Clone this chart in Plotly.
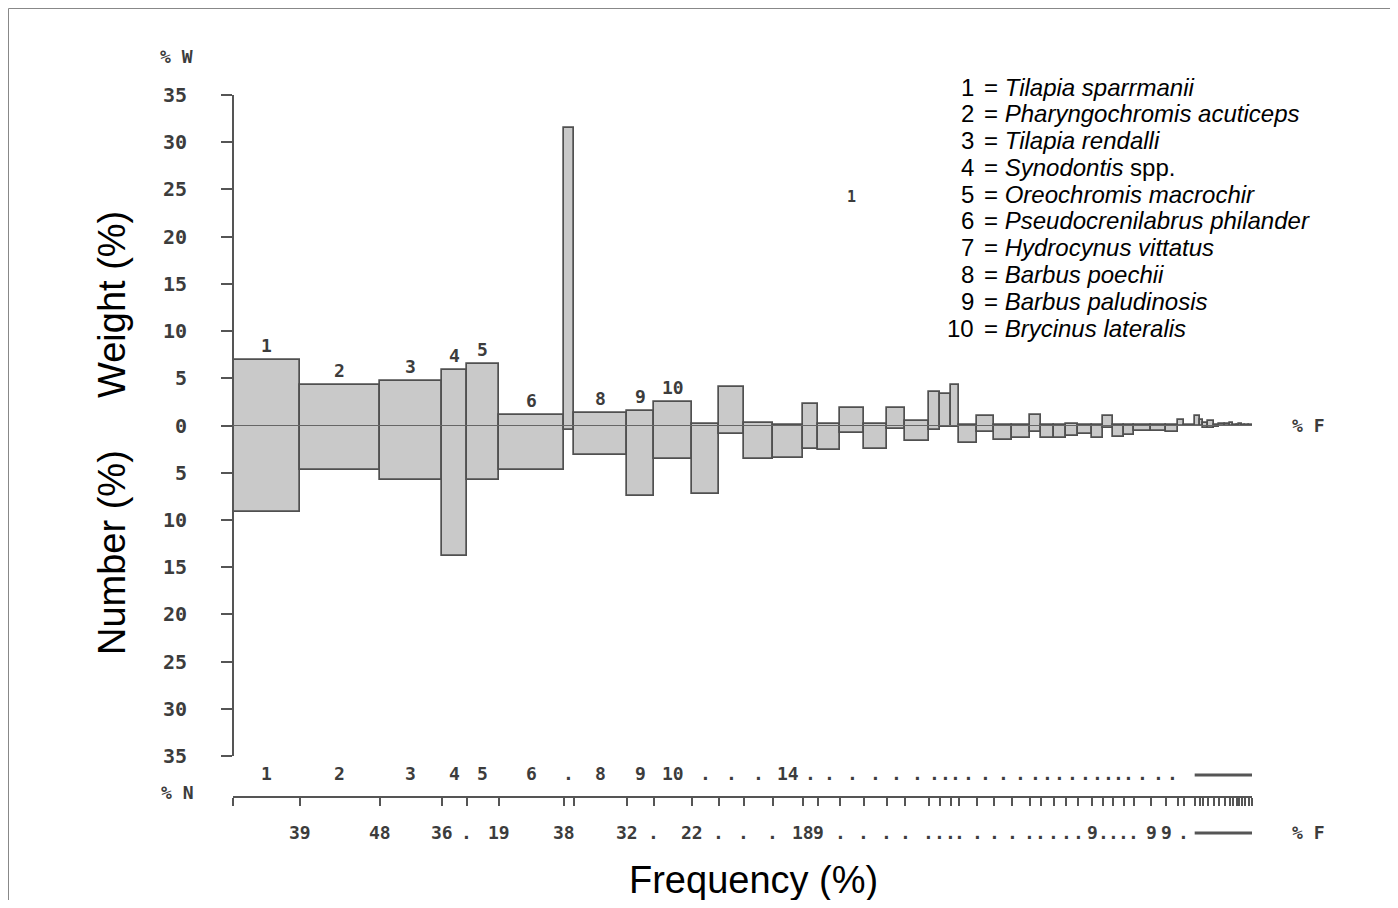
import plotly.graph_objects as go
import numpy as np

# ---------------- data ----------------
freq = [39, 47, 36, 14.5, 19, 38, 5.5, 31.5, 15.5, 22.5, 15.5, 14.5, 17, 17.5, 9, 13, 13.5, 13.5,
        11, 13.5, 6.5, 6.5, 5, 10.5, 10, 10.5, 10, 6.5, 7.5, 7.5, 7, 8, 6.5, 6, 6, 6, 10, 9, 6.5,
        3.5, 6.5, 3, 2, 3, 3, 3.5, 3, 3, 2, 2, 1.5, 1.5, 2, 2, 2]
weight = [6.9, 4.3, 4.7, 5.9, 6.5, 1.1, 31.5, 1.3, 1.5, 2.5, 0.15, 4.1, 0.3, 0.05, 2.3, 0.2, 1.9,
          0.2, 1.9, 0.5, 3.5, 3.3, 4.3, 0.1, 1.0, 0.05, 0.05, 1.1, 0.05, 0.05, 0.2, 0.05, 0.05, 1.0,
          0.05, 0.05, 0.05, 0.05, 0.05, 0.6, 0.1, 1.0, 0.6, 0.3, 0.5, 0.1, 0.2, 0.2, 0.3, 0.1, 0.1,
          0.2, 0.05, 0.05, 0.05]
number = [9.2, 4.7, 5.8, 13.8, 5.8, 4.7, 0.5, 3.1, 7.5, 3.5, 7.3, 0.9, 3.5, 3.4, 2.5, 2.6, 0.8,
          2.5, 0.4, 1.6, 0.5, 0.2, 0.2, 1.8, 0.7, 1.5, 1.3, 0.7, 1.3, 1.3, 1.1, 0.9, 1.3, 0.3, 1.2,
          1.0, 0.6, 0.6, 0.7, 0.05, 0.1, 0.05, 0.05, 0.3, 0.3, 0.2, 0.1, 0.1, 0.1, 0.1, 0.05, 0.1,
          0.05, 0.05, 0.05]
above_labels = ["1", "2", "3", "4", "5", "6", "", "8", "9", "10"]
rank_labels = ["1", "2", "3", "4", "5", "6", ".", "8", "9", "10", ".", ".", ".", "14"] + \
              ["."] * 25 + [""] * 16
freq_labels = ["39", "48", "36", ".", "19", "38", "", "32", ".", "22", ".", ".", ".", "18", "9"] + \
              ["."] * 16 + ["9", ".", ".", ".", ".", "9", "9", "", "."] + [""] * 15
species = ["Tilapia sparrmanii", "Pharyngochromis acuticeps", "Tilapia rendalli",
           "Synodontis|spp.", "Oreochromis macrochir", "Pseudocrenilabrus philander",
           "Hydrocynus vittatus", "Barbus poechii", "Barbus paludinosis", "Brycinus lateralis"]
y_ticks = [35, 30, 25, 20, 15, 10, 5, 0, -5, -10, -15, -20, -25, -30, -35]

# ---------------- geometry (page pixels; page body offset 8 px) ----------------
OFF = 8
W, H = 1390, 892
L, R, T, B = 233, 1252, 95, 860          # plot area in page pixels
PW, PH = R - L, B - T
def fx(p):
    return (p - L) / PW
def fy(p):
    return (B - p) / PH

freq = np.array(freq, dtype=float)
right = np.cumsum(freq)
left = right - freq
center = (left + right) / 2
total = right[-1]
unit = 70 / 661.0
ymin = 35 - PH * unit

MONO = "DejaVu Sans Mono"
SANS = "Liberation Sans, Arial"
TXT = "#3c3c3c"

fig = go.Figure()
fig.add_trace(go.Bar(
    x=center, y=np.array(weight) + np.array(number), base=-np.array(number), width=freq,
    marker=dict(color="#c9c9c9", line=dict(color="#505050", width=1.7)),
    hoverinfo="skip", showlegend=False))

ann = []
def A(**kw):
    kw.setdefault("showarrow", False)
    kw.setdefault("xanchor", "center")
    kw.setdefault("yanchor", "middle")
    ann.append(kw)

# species number above the first bars
for i, lab in enumerate(above_labels):
    if lab:
        A(x=center[i], y=weight[i], xref="x", yref="y", text=f"<b>{lab}</b>",
          yanchor="bottom", yshift=2, font=dict(family=MONO, size=18, color=TXT))
A(x=fx(851), y=fy(197), xref="paper", yref="paper", text="<b>1</b>",
  font=dict(family=MONO, size=15, color=TXT))
# rank row and frequency row
for i in range(len(freq)):
    if rank_labels[i]:
        A(x=center[i], y=fy(773), xref="x", yref="paper", text=f"<b>{rank_labels[i]}</b>",
          font=dict(family=MONO, size=18, color=TXT))
    if freq_labels[i]:
        A(x=right[i], y=fy(832), xref="x", yref="paper", text=f"<b>{freq_labels[i]}</b>",
          font=dict(family=MONO, size=18, color=TXT))
# axis unit labels
for txt, x, y in [("% W", 176, 57), ("% N", 177, 792), ("% F", 1308, 425), ("% F", 1308, 832)]:
    A(x=fx(x), y=fy(y), xref="paper", yref="paper", text=f"<b>{txt}</b>",
      font=dict(family=MONO, size=18, color=TXT))
# legend list
for i, name in enumerate(species):
    yy = 87 + i * 26.8
    A(x=fx(976), y=fy(yy), xref="paper", yref="paper", text=str(i + 1), xanchor="right",
      font=dict(family=SANS, size=24, color="black"))
    if "|" in name:
        a, b = name.split("|")
        t = f"= <i>{a}</i> {b}"
    else:
        t = f"= <i>{name}</i>"
    A(x=fx(982), y=fy(yy), xref="paper", yref="paper", text=t, xanchor="left",
      font=dict(family=SANS, size=24, color="black"))
# titles
A(x=fx(112), y=fy(305), xref="paper", yref="paper", text="Weight (%)", textangle=-90,
  font=dict(family=SANS, size=38, color="black"))
A(x=fx(112), y=fy(553), xref="paper", yref="paper", text="Number (%)", textangle=-90,
  font=dict(family=SANS, size=38, color="black"))
A(x=fx(753), y=fy(880), xref="paper", yref="paper", text="Frequency (%)",
  font=dict(family=SANS, size=38, color="black"))

shapes = [
    # y axis line
    dict(type="line", xref="paper", yref="y", x0=0, x1=0, y0=-35, y1=35,
         line=dict(color="#555555", width=2)),
    # zero line across bars
    dict(type="line", xref="x", yref="y", x0=0, x1=total, y0=0, y1=0,
         line=dict(color="#666666", width=1.2), layer="above"),
    # dense tail marks in the label rows
    dict(type="line", xref="x", yref="paper", x0=right[40], x1=total, y0=fy(775), y1=fy(775),
         line=dict(color="#555555", width=3)),
    dict(type="line", xref="x", yref="paper", x0=right[40], x1=total, y0=fy(833), y1=fy(833),
         line=dict(color="#555555", width=3)),
    # outer frame
    dict(type="rect", xref="paper", yref="paper", x0=fx(OFF + 0.5), x1=fx(OFF + W - 0.5),
         y0=fy(OFF + 0.5), y1=fy(OFF + H + 20), line=dict(color="#888888", width=1)),
]

fig.update_layout(
    width=W, height=H,
    margin=dict(l=L - OFF, r=W + OFF - R, t=T - OFF, b=H + OFF - B),
    paper_bgcolor="white", plot_bgcolor="white",
    bargap=0, showlegend=False,
    annotations=ann, shapes=shapes,
    xaxis=dict(range=[0, total], anchor="free", position=fy(797), showline=True,
               linecolor="#555555", linewidth=2, ticks="outside", ticklen=8, tickwidth=2,
               tickcolor="#555555", tickvals=np.concatenate([[0], right]), showticklabels=False,
               showgrid=False, zeroline=False, fixedrange=True),
    yaxis=dict(range=[ymin, 35], tickvals=y_ticks, ticktext=[f"<b>{abs(v)}</b>" for v in y_ticks],
               ticks="outside", ticklen=11, tickwidth=2, tickcolor="#555555", showline=False,
               showgrid=False, zeroline=False, ticklabelstandoff=30,
               tickfont=dict(family=MONO, size=20, color=TXT), fixedrange=True),
)

fig.write_html("out.html")
